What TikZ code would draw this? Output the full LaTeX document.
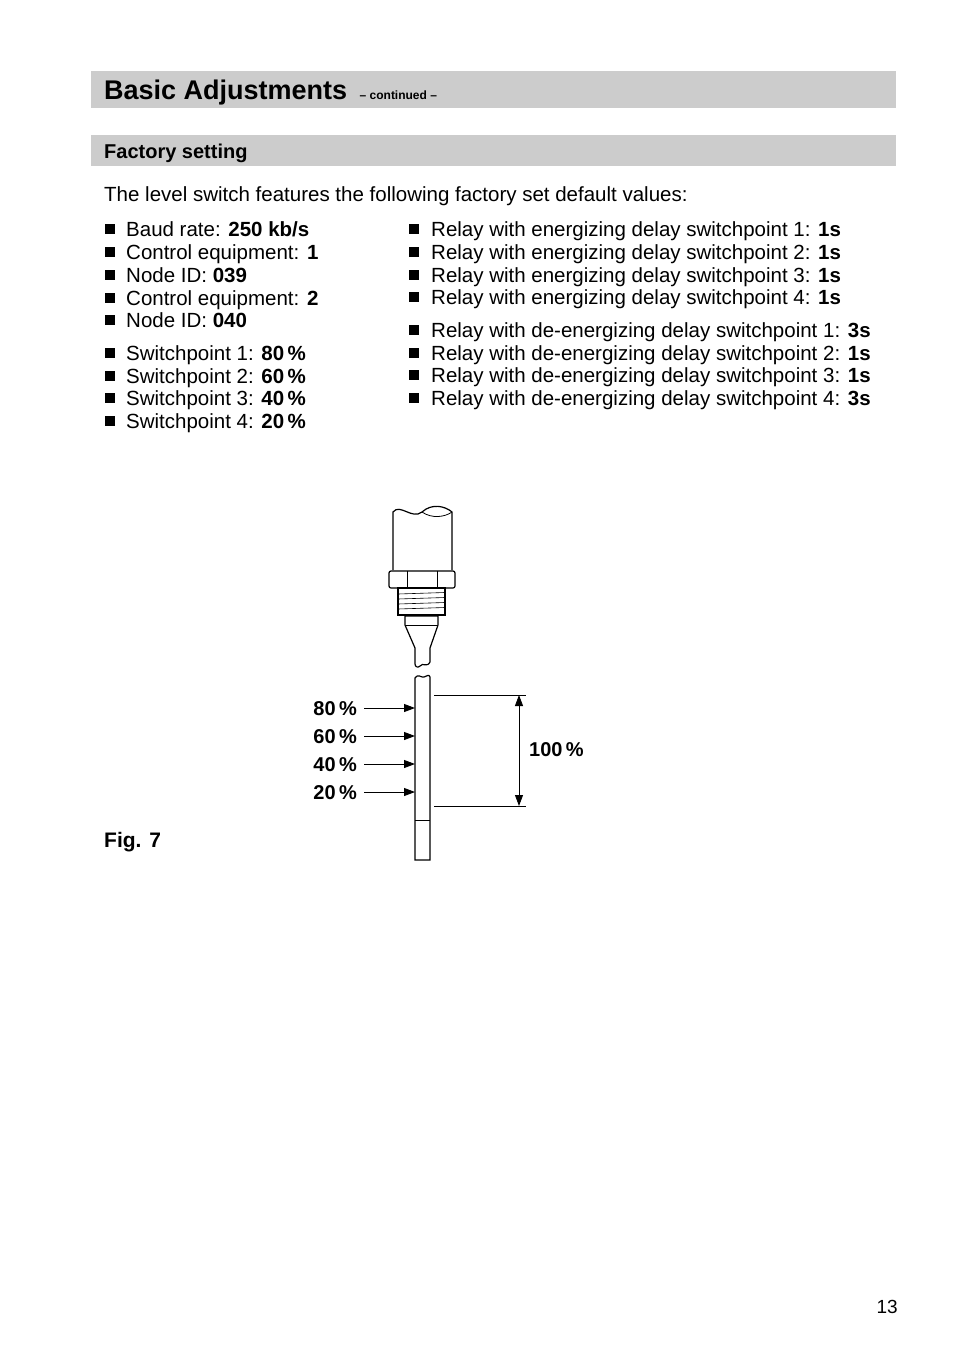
\documentclass[tikz,border=0pt]{standalone}
\usepackage{fontspec}
\setmainfont{Liberation Sans}
\usetikzlibrary{positioning}
\usetikzlibrary{arrows.meta}
\tikzset{
  txt/.style={anchor=base west, inner sep=0pt, font=\fontsize{20.5}{24}\selectfont},
  pct/.style={anchor=base east, inner sep=0pt, font=\fontsize{20}{24}\selectfont\bfseries},
  bul/.style={fill=black, minimum size=10.5pt, inner sep=0pt},
  part/.style={line width=1.2pt, fill=white}
}
\begin{document}
\begin{tikzpicture}[x=1pt, y=-1pt, >={Triangle[length=11pt, width=8pt]}]
        \useasboundingbox (0,0) rectangle (954,1352);
        %header
        \fill[black!20] (91,71) rectangle (896,108);
        \node[txt, font=\fontsize{27}{30}\selectfont\bfseries] (title) at (104,99) {Basic Adjustments};
        \node[inner sep=0pt, font=\fontsize{12}{14}\selectfont\bfseries, right=12pt of title.base east, anchor=base west] (cont) {-- continued --};
        \fill[black!20] (91,135) rectangle (896,166);
        \node[txt, font=\fontsize{20}{24}\selectfont\bfseries] (sect) at (104,158) {Factory setting};
        \node[txt] (intro) at (104,201) {The level switch features the following factory set default values:};
        %left list
        \foreach \y/\t in {229/{Baud rate: \textbf{250 kb/s}}, 252/{Control equipment: \textbf{1}},
            275/{Node ID: \textbf{039}}, 298/{Control equipment: \textbf{2}}, 320/{Node ID: \textbf{040}},
            353/{Switchpoint 1: \textbf{80\,\%}}, 376/{Switchpoint 2: \textbf{60\,\%}},
            398/{Switchpoint 3: \textbf{40\,\%}}, 421/{Switchpoint 4: \textbf{20\,\%}}}{
          \node[bul] at (110,\y) {};
          \node[txt] at (126,\y+7) {\t};
        }
        %right list
        \foreach \y/\n/\v in {229/1/1s, 252/2/1s, 275/3/1s, 297/4/1s}{
          \node[bul] at (414,\y) {};
          \node[txt] at (431,\y+7) {Relay with energizing delay switchpoint \n: \textbf{\v}};
        }
        \foreach \y/\n/\v in {330/1/3s, 353/2/1s, 375/3/1s, 398/4/3s}{
          \node[bul] at (414,\y) {};
          \node[txt] at (431,\y+7) {Relay with de-energizing delay switchpoint \n: \textbf{\v}};
        }
        %sensor head
        \draw[part] (393,570) -- (393,512) .. controls (400,503) and (412,520) .. (422,512)
            .. controls (432,503) and (445,506) .. (452,512) -- (452,570);
        \draw[line width=0.8pt] (422,512) .. controls (432,519) and (445,517) .. (452,512);
        \draw[part, rounded corners=2pt] (389,571) rectangle (455,588);
        \draw[line width=0.8pt] (407,571) -- (407,588) (437,571) -- (437,588);
        \draw[part] (398,588) rectangle (445,615);
        \foreach \y in {594,599,...,612}
          \draw[line width=0.6pt] (398,\y) -- (445,\y-1.5);
        \draw[part] (405,616) -- (438,616) -- (438,625) -- (430,648) -- (430,662)
            .. controls (427,668) and (423,662) .. (420,666) .. controls (418,668) and (415,667) .. (415,664)
            -- (415,648) -- (405,625) -- cycle;
        \draw[line width=0.8pt] (405,625) -- (438,625);
        %rod
        \draw[part] (415,860) -- (415,678) .. controls (418,673) and (421,678) .. (424,677)
            .. controls (427,676) and (429,674) .. (430,677) -- (430,860) -- cycle;
        \draw[line width=0.8pt] (415,820) -- (430,820);
        \coordinate (rod) at (415,0);
        %switchpoints
        \foreach \y/\p in {708/80, 736/60, 764/40, 792/20}{
          \node[pct] (p\p) at (357,\y+7) {\p\,\%};
          \coordinate (a\p) at (364,\y);
          \draw[->, line width=0.9pt] (a\p) -- (rod |- a\p);
        }
        %dimension
        \coordinate (top) at (519,695);
        \coordinate (bot) at (519,806);
        \draw[line width=0.8pt] (434,695) -- (526,695) (434,806) -- (526,806);
        \draw[<->, line width=0.8pt] (top) -- (bot);
        \node[pct, anchor=base west] (full) at (529,756) {100\,\%};
        \node[txt, font=\fontsize{21}{24}\selectfont\bfseries] (fig) at (104,847) {Fig. 7};
        \node[txt, anchor=base east, font=\fontsize{19}{22}\selectfont] (page) at (898,1313) {13};
\end{tikzpicture}
\end{document}
